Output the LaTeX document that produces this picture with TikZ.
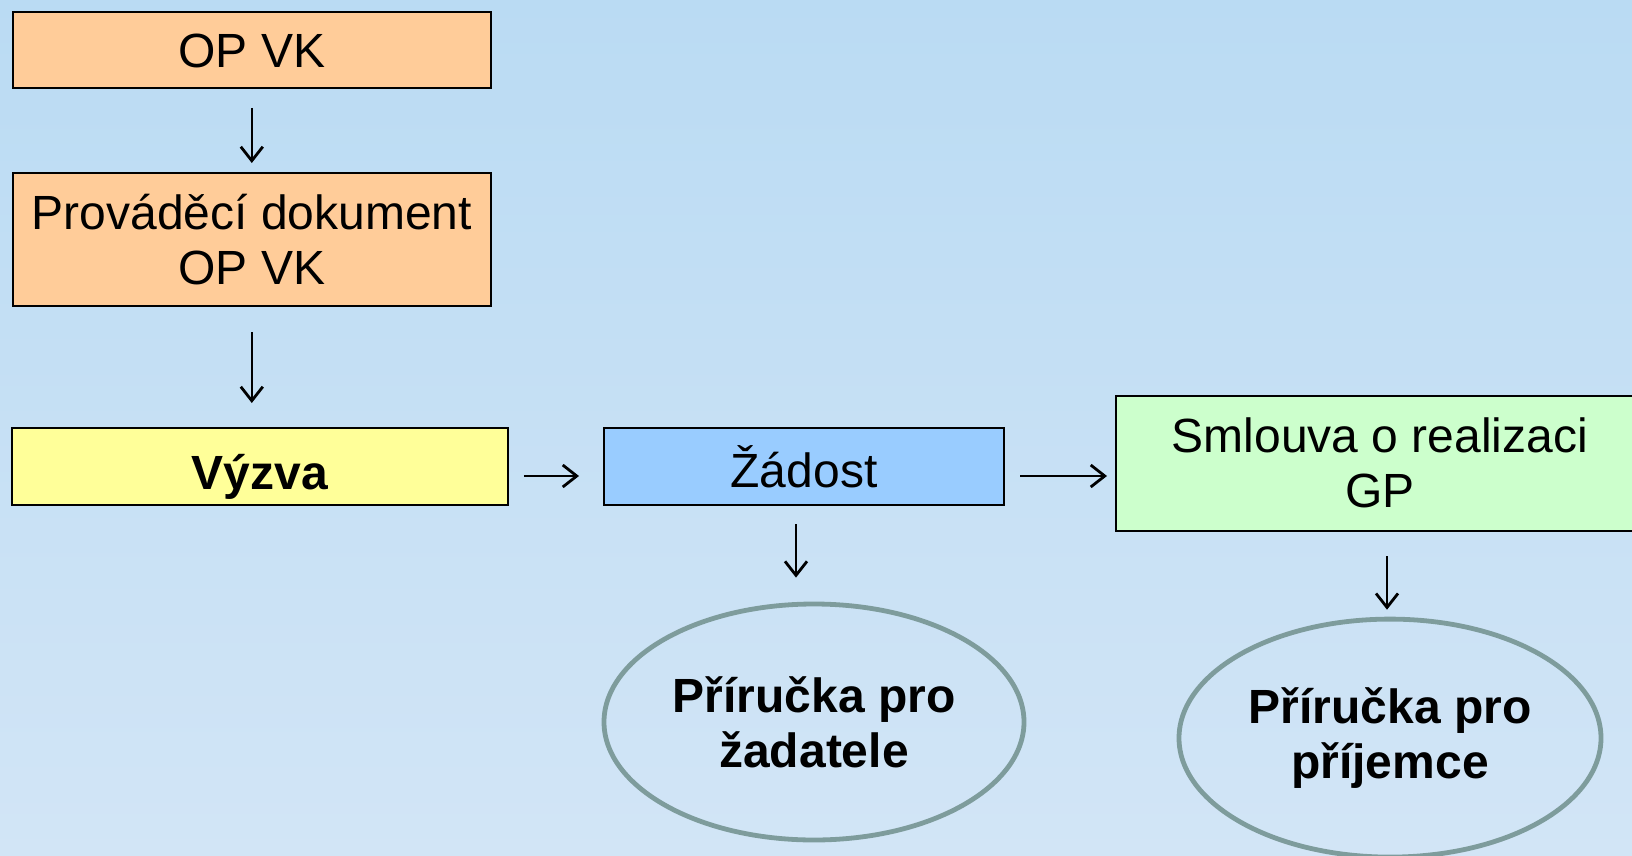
\documentclass[tikz,border=0pt]{standalone}
\usepackage{fontspec}
\setmainfont{Liberation Sans}
\usepackage{tikz}
\usetikzlibrary{arrows.meta,positioning,shapes.geometric}

\definecolor{bgtop}{RGB}{186,219,243}
\definecolor{bgbot}{RGB}{210,229,246}
\definecolor{opfill}{RGB}{255,204,153}
\definecolor{vyzvafill}{RGB}{255,255,153}
\definecolor{zadostfill}{RGB}{153,204,255}
\definecolor{smlfill}{RGB}{204,255,204}
\definecolor{ringline}{RGB}{126,156,156}

\begin{document}
\begin{tikzpicture}[on grid,auto,
    box/.style={draw=black,line width=1pt,rectangle,align=center,inner sep=0pt,
      font=\fontsize{24pt}{27.5pt}\selectfont},
    manual/.style={draw=ringline,line width=2.4pt,ellipse,align=center,inner sep=0pt,
      font=\fontsize{24pt}{27.5pt}\selectfont\bfseries},
    flow/.style={line width=0.9pt,-{Straight Barb[length=7pt,width=11pt,line width=1.4pt]}}]
      \shade[top color=bgtop,bottom color=bgbot] (0,0) rectangle (816pt,-428pt);
      \useasboundingbox (0,0) rectangle (816pt,-428pt);

      \node[box,fill=opfill,minimum width=239.25pt,minimum height=38pt] (opvk) at (125.9pt,-25.25pt) {OP VK};
      \node[box,fill=opfill,minimum width=239.25pt,minimum height=66.5pt] (provadeci) [below=94.5pt of opvk] {Prováděcí dokument\\OP VK};
      \node[box,fill=vyzvafill,minimum width=247.75pt,minimum height=38.5pt,text height=28pt,font=\fontsize{24pt}{27.5pt}\selectfont\bfseries] (vyzva) at (130pt,-233.25pt) {Výzva};
      \node[box,fill=zadostfill,minimum width=200pt,minimum height=38.5pt] (zadost) [right=272pt of vyzva] {Žádost};
      \node[box,fill=smlfill,minimum width=264pt,minimum height=67.75pt] (smlouva) [right=288pt of zadost,yshift=1.6pt] {Smlouva o realizaci\\GP};

      \node[manual,minimum width=210pt,minimum height=118pt] (zadatel) [below=127.75pt of zadost,xshift=5pt] {Příručka pro\\žadatele};
      \node[manual,minimum width=211pt,minimum height=119pt] (prijemce) [below=137.4pt of smlouva,xshift=5pt] {Příručka pro\\příjemce};

      \path[flow]
        (opvk.south) edge[shorten <=9.25pt,shorten >=4.5pt] (provadeci.north)
        (provadeci.south) edge[shorten <=12.5pt,shorten >=12pt] (provadeci.south |- vyzva.north)
        ([yshift=-4.75pt]vyzva.east) edge[shorten <=7.6pt,shorten >=12pt] ([yshift=-4.75pt]vyzva.east -| zadost.west)
        ([yshift=-4.75pt]zadost.east) edge[shorten <=7.5pt,shorten >=4pt] ([yshift=-4.75pt]zadost.east -| smlouva.west)
        ([xshift=-4pt]zadost.south) edge[shorten <=9pt,shorten >=12pt] ([xshift=-4pt]zadost.south |- zadatel.north)
        ([xshift=3.5pt]smlouva.south) edge[shorten <=12pt,shorten >=3.5pt] ([xshift=3.5pt]smlouva.south |- prijemce.north);
\end{tikzpicture}
\end{document}
